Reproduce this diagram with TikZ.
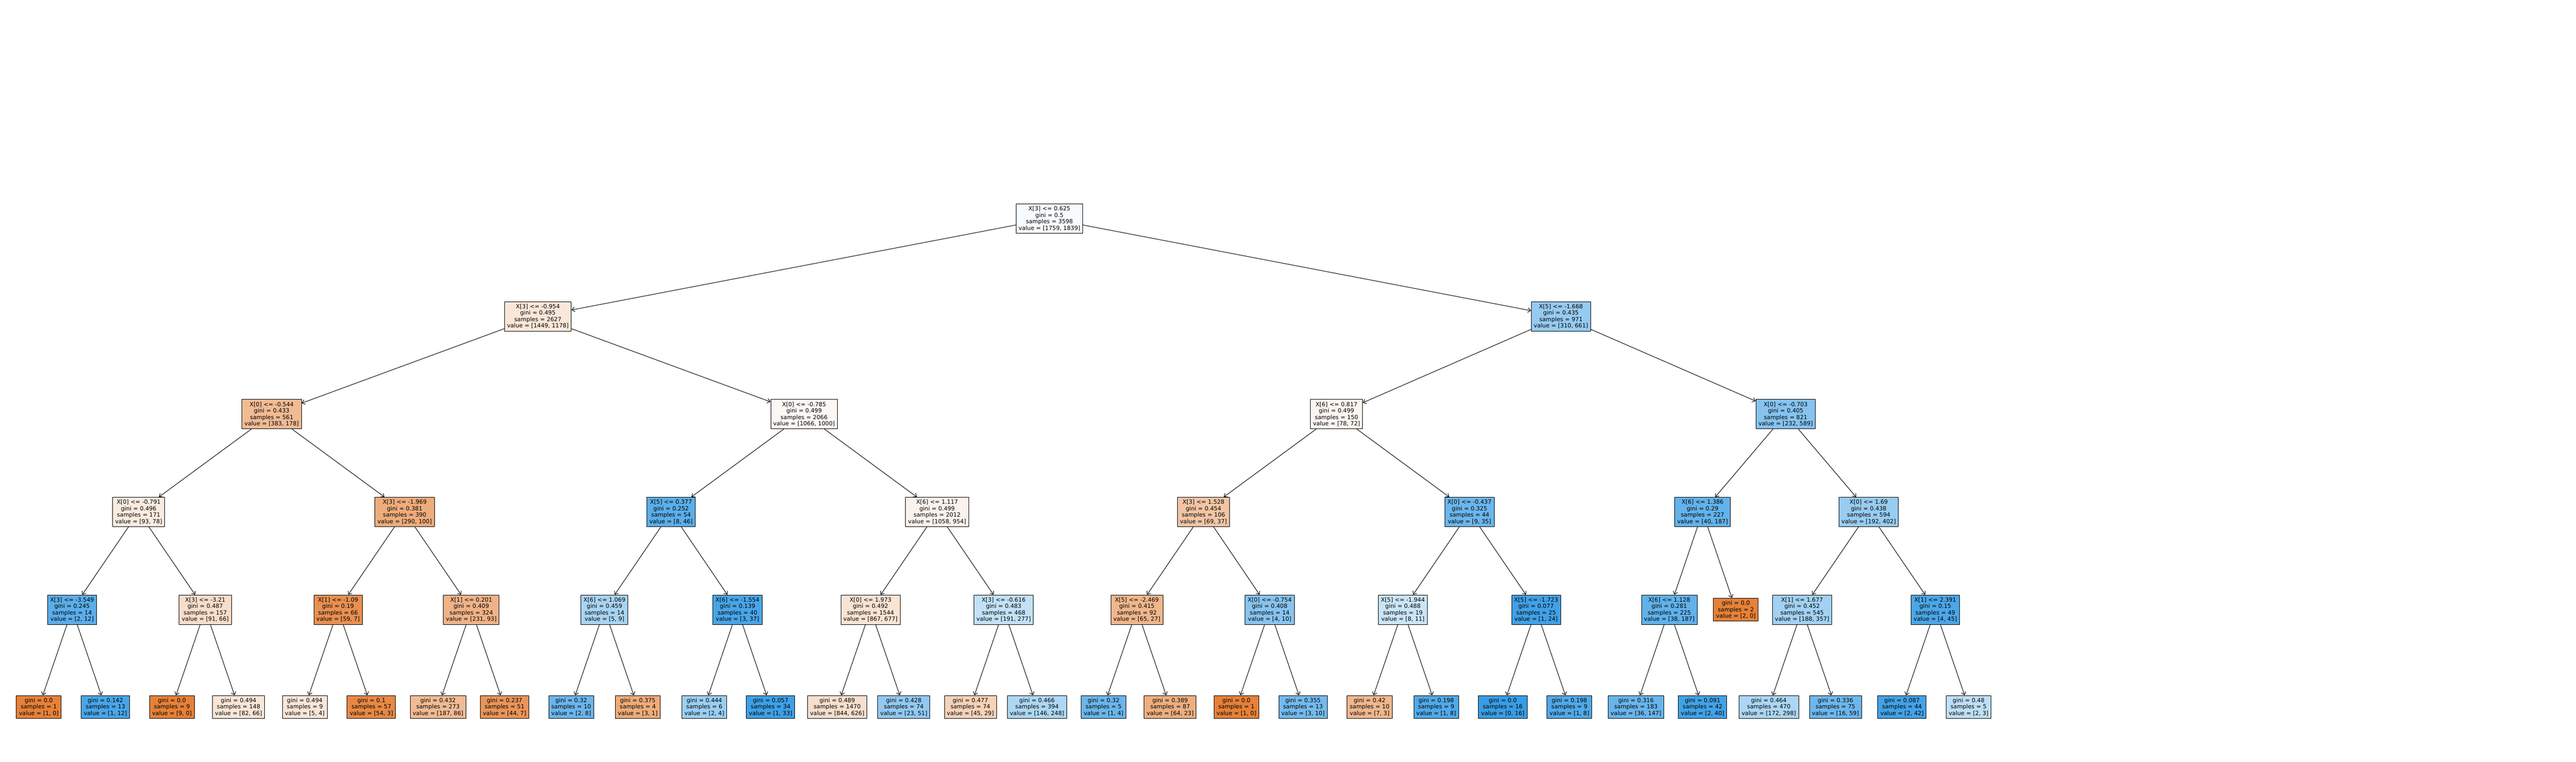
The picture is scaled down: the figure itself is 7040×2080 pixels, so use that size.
\documentclass[tikz,border=0pt]{standalone}
\usepackage{fontspec}
\setmainfont{DejaVu Sans}
\usetikzlibrary{arrows.meta}
\definecolor{classorange}{RGB}{229,129,57}
\definecolor{classblue}{RGB}{57,157,229}
\tikzset{
  box/.style={draw=black, line width=0.35pt, inner xsep=2pt, inner ysep=0pt,
    align=center, font=\fontsize{4.47}{5.0}\selectfont},
  split/.style={box, minimum height=22.8pt},
  leaf/.style={box, minimum height=17.9pt},
  edge/.style={-{Straight Barb[length=2.2pt,width=3.6pt]}, line width=0.4pt}
}

\begin{document}
\begin{tikzpicture}[x=0.01cm,y=-0.01cm]
\fill[white] (0,0) rectangle (7040,2080);
\useasboundingbox (0,0) rectangle (7040,2080);

% Root split
\node[split,fill=classblue!4] (root) at (2868,597) {X[3] <= 0.625\\gini = 0.5\\samples = 3598\\value = [1759, 1839]};

% Depth 1
\node[split,fill=classorange!19] (l) at (1470,864) {X[3] <= -0.954\\gini = 0.495\\samples = 2627\\value = [1449, 1178]};
\node[split,fill=classblue!53] (r) at (4266,864) {X[5] <= -1.668\\gini = 0.435\\samples = 971\\value = [310, 661]};

% Depth 2
\node[split,fill=classorange!54] (ll) at (742.5,1131) {X[0] <= -0.544\\gini = 0.433\\samples = 561\\value = [383, 178]};
\node[split,fill=classorange!6] (lr) at (2197.5,1131) {X[0] <= -0.785\\gini = 0.499\\samples = 2066\\value = [1066, 1000]};
\node[split,fill=classorange!8] (rl) at (3652.5,1131) {X[6] <= 0.817\\gini = 0.499\\samples = 150\\value = [78, 72]};
\node[split,fill=classblue!61] (rr) at (4880,1131) {X[0] <= -0.703\\gini = 0.405\\samples = 821\\value = [232, 589]};

% Depth 3
\node[split,fill=classorange!16] (lll) at (379,1398) {X[0] <= -0.791\\gini = 0.496\\samples = 171\\value = [93, 78]};
\node[split,fill=classorange!66] (llr) at (1106,1398) {X[3] <= -1.969\\gini = 0.381\\samples = 390\\value = [290, 100]};
\node[split,fill=classblue!83] (lrl) at (1834,1398) {X[5] <= 0.377\\gini = 0.252\\samples = 54\\value = [8, 46]};
\node[split,fill=classorange!10] (lrr) at (2561,1398) {X[6] <= 1.117\\gini = 0.499\\samples = 2012\\value = [1058, 954]};
\node[split,fill=classorange!46] (rll) at (3289,1398) {X[3] <= 1.528\\gini = 0.454\\samples = 106\\value = [69, 37]};
\node[split,fill=classblue!74] (rlr) at (4016,1398) {X[0] <= -0.437\\gini = 0.325\\samples = 44\\value = [9, 35]};
\node[split,fill=classblue!79] (rrl) at (4653,1398) {X[6] <= 1.386\\gini = 0.29\\samples = 227\\value = [40, 187]};
\node[split,fill=classblue!52] (rrr) at (5107,1398) {X[0] <= 1.69\\gini = 0.438\\samples = 594\\value = [192, 402]};

% Depth 4
\node[split,fill=classblue!83] (llll) at (197,1665) {X[3] <= -3.549\\gini = 0.245\\samples = 14\\value = [2, 12]};
\node[split,fill=classorange!27] (lllr) at (561,1665) {X[3] <= -3.21\\gini = 0.487\\samples = 157\\value = [91, 66]};
\node[split,fill=classorange!88] (llrl) at (924,1665) {X[1] <= -1.09\\gini = 0.19\\samples = 66\\value = [59, 7]};
\node[split,fill=classorange!60] (llrr) at (1288,1665) {X[1] <= 0.201\\gini = 0.409\\samples = 324\\value = [231, 93]};
\node[split,fill=classblue!44] (lrll) at (1652,1665) {X[6] <= 1.069\\gini = 0.459\\samples = 14\\value = [5, 9]};
\node[split,fill=classblue!92] (lrlr) at (2015.5,1665) {X[6] <= -1.554\\gini = 0.139\\samples = 40\\value = [3, 37]};
\node[split,fill=classorange!22] (lrrl) at (2379,1665) {X[0] <= 1.973\\gini = 0.492\\samples = 1544\\value = [867, 677]};
\node[split,fill=classblue!31] (lrrr) at (2743,1665) {X[3] <= -0.616\\gini = 0.483\\samples = 468\\value = [191, 277]};
\node[split,fill=classorange!58] (rlll) at (3107,1665) {X[5] <= -2.469\\gini = 0.415\\samples = 92\\value = [65, 27]};
\node[split,fill=classblue!60] (rllr) at (3470,1665) {X[0] <= -0.754\\gini = 0.408\\samples = 14\\value = [4, 10]};
\node[split,fill=classblue!27] (rlrl) at (3834,1665) {X[5] <= -1.944\\gini = 0.488\\samples = 19\\value = [8, 11]};
\node[split,fill=classblue!96] (rlrr) at (4198,1665) {X[5] <= -1.723\\gini = 0.077\\samples = 25\\value = [1, 24]};
\node[split,fill=classblue!80] (rrll) at (4562,1665) {X[6] <= 1.128\\gini = 0.281\\samples = 225\\value = [38, 187]};
\node[leaf,fill=classorange] (rrlr) at (4744,1665) {gini = 0.0\\samples = 2\\value = [2, 0]};
\node[split,fill=classblue!47] (rrrl) at (4925,1665) {X[1] <= 1.677\\gini = 0.452\\samples = 545\\value = [188, 357]};
\node[split,fill=classblue!91] (rrrr) at (5289,1665) {X[1] <= 2.391\\gini = 0.15\\samples = 49\\value = [4, 45]};

% Depth 5 leaves
\node[leaf,fill=classorange] (lllll) at (106,1931) {gini = 0.0\\samples = 1\\value = [1, 0]};
\node[leaf,fill=classblue!92] (llllr) at (288,1931) {gini = 0.142\\samples = 13\\value = [1, 12]};
\node[leaf,fill=classorange] (lllrl) at (470,1931) {gini = 0.0\\samples = 9\\value = [9, 0]};
\node[leaf,fill=classorange!20] (lllrr) at (652,1931) {gini = 0.494\\samples = 148\\value = [82, 66]};
\node[leaf,fill=classorange!20] (llrll) at (833,1931) {gini = 0.494\\samples = 9\\value = [5, 4]};
\node[leaf,fill=classorange!94] (llrlr) at (1015,1931) {gini = 0.1\\samples = 57\\value = [54, 3]};
\node[leaf,fill=classorange!54] (llrrl) at (1197,1931) {gini = 0.432\\samples = 273\\value = [187, 86]};
\node[leaf,fill=classorange!84] (llrrr) at (1379,1931) {gini = 0.237\\samples = 51\\value = [44, 7]};
\node[leaf,fill=classblue!75] (lrlll) at (1561,1931) {gini = 0.32\\samples = 10\\value = [2, 8]};
\node[leaf,fill=classorange!67] (lrllr) at (1743,1931) {gini = 0.375\\samples = 4\\value = [3, 1]};
\node[leaf,fill=classblue!50] (lrlrl) at (1925,1931) {gini = 0.444\\samples = 6\\value = [2, 4]};
\node[leaf,fill=classblue!97] (lrlrr) at (2106,1931) {gini = 0.057\\samples = 34\\value = [1, 33]};
\node[leaf,fill=classorange!26] (lrrll) at (2288,1931) {gini = 0.489\\samples = 1470\\value = [844, 626]};
\node[leaf,fill=classblue!55] (lrrlr) at (2470,1931) {gini = 0.428\\samples = 74\\value = [23, 51]};
\node[leaf,fill=classorange!36] (lrrrl) at (2652,1931) {gini = 0.477\\samples = 74\\value = [45, 29]};
\node[leaf,fill=classblue!41] (lrrrr) at (2834,1931) {gini = 0.466\\samples = 394\\value = [146, 248]};
\node[leaf,fill=classblue!75] (rllll) at (3016,1931) {gini = 0.32\\samples = 5\\value = [1, 4]};
\node[leaf,fill=classorange!64] (rlllr) at (3198,1931) {gini = 0.389\\samples = 87\\value = [64, 23]};
\node[leaf,fill=classorange] (rllrl) at (3379,1931) {gini = 0.0\\samples = 1\\value = [1, 0]};
\node[leaf,fill=classblue!70] (rllrr) at (3561,1931) {gini = 0.355\\samples = 13\\value = [3, 10]};
\node[leaf,fill=classorange!57] (rlrll) at (3743,1931) {gini = 0.42\\samples = 10\\value = [7, 3]};
\node[leaf,fill=classblue!88] (rlrlr) at (3925,1931) {gini = 0.198\\samples = 9\\value = [1, 8]};
\node[leaf,fill=classblue] (rlrrl) at (4107,1931) {gini = 0.0\\samples = 16\\value = [0, 16]};
\node[leaf,fill=classblue!88] (rlrrr) at (4289,1931) {gini = 0.198\\samples = 9\\value = [1, 8]};
\node[leaf,fill=classblue!76] (rrlll) at (4471,1931) {gini = 0.316\\samples = 183\\value = [36, 147]};
\node[leaf,fill=classblue!95] (rrllr) at (4653,1931) {gini = 0.091\\samples = 42\\value = [2, 40]};
\node[leaf,fill=classblue!42] (rrrll) at (4834,1931) {gini = 0.464\\samples = 470\\value = [172, 298]};
\node[leaf,fill=classblue!73] (rrrlr) at (5016,1931) {gini = 0.336\\samples = 75\\value = [16, 59]};
\node[leaf,fill=classblue!95] (rrrrl) at (5198,1931) {gini = 0.087\\samples = 44\\value = [2, 42]};
\node[leaf,fill=classblue!33] (rrrrr) at (5380,1931) {gini = 0.48\\samples = 5\\value = [2, 3]};

% Branches
\draw[edge] (root) -- (l);
\draw[edge] (root) -- (r);
\draw[edge] (l) -- (ll);
\draw[edge] (l) -- (lr);
\draw[edge] (r) -- (rl);
\draw[edge] (r) -- (rr);
\draw[edge] (ll) -- (lll);
\draw[edge] (ll) -- (llr);
\draw[edge] (lr) -- (lrl);
\draw[edge] (lr) -- (lrr);
\draw[edge] (rl) -- (rll);
\draw[edge] (rl) -- (rlr);
\draw[edge] (rr) -- (rrl);
\draw[edge] (rr) -- (rrr);
\draw[edge] (lll) -- (llll);
\draw[edge] (lll) -- (lllr);
\draw[edge] (llr) -- (llrl);
\draw[edge] (llr) -- (llrr);
\draw[edge] (lrl) -- (lrll);
\draw[edge] (lrl) -- (lrlr);
\draw[edge] (lrr) -- (lrrl);
\draw[edge] (lrr) -- (lrrr);
\draw[edge] (rll) -- (rlll);
\draw[edge] (rll) -- (rllr);
\draw[edge] (rlr) -- (rlrl);
\draw[edge] (rlr) -- (rlrr);
\draw[edge] (rrl) -- (rrll);
\draw[edge] (rrl) -- (rrlr);
\draw[edge] (rrr) -- (rrrl);
\draw[edge] (rrr) -- (rrrr);
\draw[edge] (llll) -- (lllll);
\draw[edge] (llll) -- (llllr);
\draw[edge] (lllr) -- (lllrl);
\draw[edge] (lllr) -- (lllrr);
\draw[edge] (llrl) -- (llrll);
\draw[edge] (llrl) -- (llrlr);
\draw[edge] (llrr) -- (llrrl);
\draw[edge] (llrr) -- (llrrr);
\draw[edge] (lrll) -- (lrlll);
\draw[edge] (lrll) -- (lrllr);
\draw[edge] (lrlr) -- (lrlrl);
\draw[edge] (lrlr) -- (lrlrr);
\draw[edge] (lrrl) -- (lrrll);
\draw[edge] (lrrl) -- (lrrlr);
\draw[edge] (lrrr) -- (lrrrl);
\draw[edge] (lrrr) -- (lrrrr);
\draw[edge] (rlll) -- (rllll);
\draw[edge] (rlll) -- (rlllr);
\draw[edge] (rllr) -- (rllrl);
\draw[edge] (rllr) -- (rllrr);
\draw[edge] (rlrl) -- (rlrll);
\draw[edge] (rlrl) -- (rlrlr);
\draw[edge] (rlrr) -- (rlrrl);
\draw[edge] (rlrr) -- (rlrrr);
\draw[edge] (rrll) -- (rrlll);
\draw[edge] (rrll) -- (rrllr);
\draw[edge] (rrrl) -- (rrrll);
\draw[edge] (rrrl) -- (rrrlr);
\draw[edge] (rrrr) -- (rrrrl);
\draw[edge] (rrrr) -- (rrrrr);
\end{tikzpicture}
\end{document}
